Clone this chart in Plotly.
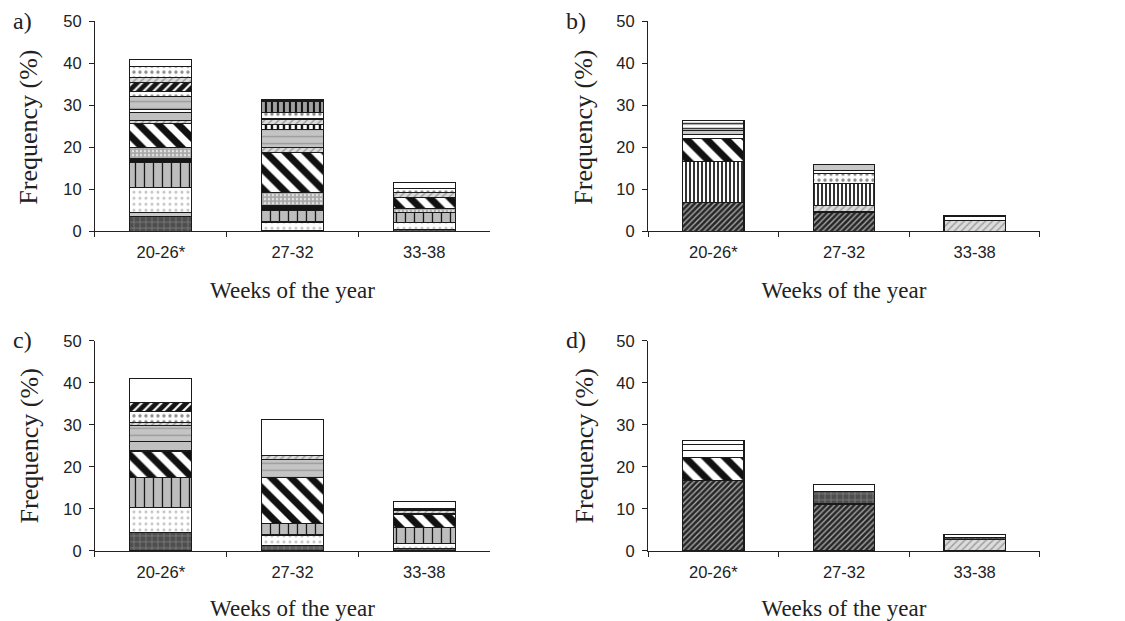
import plotly.graph_objects as go

weeks = ["20-26*", "27-32", "33-38"]

# Panel a: stacked frequencies (%) per taxon, bottom to top
a_values = [
    [3.5, 0.2, 0.5],
    [0.9, 0.0, 0.0],
    [6.1, 2.0, 1.6],
    [5.9, 2.8, 2.4],
    [0.9, 1.2, 0.0],
    [2.7, 3.1, 1.0],
    [5.7, 9.5, 2.5],
    [0.6, 1.2, 0.0],
    [2.0, 0.0, 0.0],
    [0.7, 0.0, 0.0],
    [3.0, 4.3, 0.0],
    [1.2, 0.0, 0.0],
    [2.2, 0.0, 0.0],
    [0.0, 1.2, 0.0],
    [1.1, 1.2, 1.2],
    [2.7, 1.6, 0.9],
    [0.0, 2.7, 0.0],
    [1.7, 0.3, 1.6],
]
a_styles = ["darkx", "lgray", "stipple", "vdash", "black", "gdots", "diagw", "lightdiag",
            "gray", "white", "wavy", "wdots", "blackdiag", "vsquare", "lightdiag", "wdots",
            "gvbars", "white"]

# Panel b
b_values = [
    [6.9, 4.6, 0.0],
    [0.0, 1.6, 2.6],
    [9.7, 5.1, 0.0],
    [5.4, 0.0, 0.0],
    [0.0, 2.5, 0.0],
    [1.0, 0.7, 0.9],
    [1.0, 1.4, 0.3],
    [2.3, 0.0, 0.0],
]
b_styles = ["densediag", "lightdiag", "vstripes", "diagw", "wdots", "white", "lgray", "hlines"]

# Panel c
c_values = [
    [4.4, 1.3, 0.5],
    [6.0, 2.5, 1.2],
    [7.1, 2.8, 3.9],
    [6.3, 10.9, 3.2],
    [2.3, 0.0, 0.0],
    [3.8, 4.3, 0.0],
    [0.7, 0.9, 0.8],
    [2.6, 0.0, 0.0],
    [2.2, 0.0, 0.4],
    [5.6, 8.6, 1.8],
]
c_styles = ["darkx", "stipple", "vdash", "diagw", "gray", "wavy", "lightdiag", "wdots",
            "blackdiag", "white"]

# Panel d
d_values = [
    [16.7, 11.2, 0.0],
    [0.0, 0.0, 2.8],
    [0.0, 2.9, 0.5],
    [5.6, 0.0, 0.0],
    [1.7, 1.7, 0.7],
    [1.3, 0.0, 0.0],
    [1.0, 0.0, 0.0],
]
d_styles = ["densediag", "lightdiag", "darkx", "diagw", "white", "white", "white"]


def pat(shape, fg, size, solidity):
    return dict(shape=shape, fgcolor=fg, size=size, solidity=solidity,
                fillmode="overlay", fgopacity=1)


STY = {
    "darkx": ("#4e4e4e", pat("+", "#8a8a8a", 6, 0.2)),
    "lgray": ("#c8c8c8", dict(shape="")),
    "stipple": ("#ffffff", pat(".", "#c4c4c4", 6, 0.2)),
    "vdash": ("#bdbdbd", pat("|", "#111111", 9, 0.14)),
    "black": ("#151515", dict(shape="")),
    "gdots": ("#a8a8a8", pat(".", "#e4e4e4", 4, 0.3)),
    "diagw": ("#ffffff", pat("\\", "#111111", 14, 0.5)),
    "lightdiag": ("#dcdcdc", pat("/", "#a0a0a0", 5, 0.3)),
    "gray": ("#c0c0c0", dict(shape="")),
    "white": ("#ffffff", dict(shape="")),
    "wavy": ("#c4c4c4", pat("-", "#9a9a9a", 7, 0.2)),
    "wdots": ("#ffffff", pat(".", "#8a8a8a", 6, 0.25)),
    "blackdiag": ("#151515", pat("/", "#ffffff", 7, 0.3)),
    "vsquare": ("#ffffff", pat("|", "#111111", 6, 0.4)),
    "gvbars": ("#a0a0a0", pat("|", "#111111", 6, 0.35)),
    "densediag": ("#262626", pat("/", "#a8a8a8", 4, 0.35)),
    "vstripes": ("#ffffff", pat("|", "#333333", 4, 0.5)),
    "hlines": ("#ffffff", pat("-", "#222222", 5, 0.3)),
}

H = 621


def py(ypix):
    # pixel row in the target picture -> paper fraction (with observed vertical offset)
    return 1 - (ypix - 7.8) / 0.975 / H


fig = go.Figure()

panels = [
    (a_values, a_styles, "x", "y"),
    (b_values, b_styles, "x2", "y2"),
    (c_values, c_styles, "x3", "y3"),
    (d_values, d_styles, "x4", "y4"),
]

for vals, styles, xa, ya in panels:
    for v, s in zip(vals, styles):
        col, pt = STY[s]
        fig.add_trace(go.Bar(
            x=weeks, y=v, xaxis=xa, yaxis=ya, width=0.47,
            marker=dict(color=col, pattern=pt, line=dict(color="#1a1a1a", width=1.2)),
            showlegend=False, hoverinfo="skip",
        ))

tickfont = dict(family="Liberation Sans, Arial", size=16.5, color="#222222")
serif_x = dict(family="Liberation Serif, Times New Roman", size=23, color="#222222")
xdoms = [[0.0844, 0.4356], [0.576, 0.9244], [0.0844, 0.4356], [0.576, 0.9244]]
ydoms = [[py(231), py(20)], [py(231), py(20)], [py(552), py(341)], [py(552), py(341)]]

layout = dict(
    width=1125, height=H, margin=dict(l=0, r=0, t=0, b=0),
    paper_bgcolor="white", plot_bgcolor="white", barmode="stack",
    font=dict(family="Liberation Serif", color="#222222"),
)
for i in range(4):
    sx = "xaxis" if i == 0 else f"xaxis{i+1}"
    sy = "yaxis" if i == 0 else f"yaxis{i+1}"
    anchor_x = "y" if i == 0 else f"y{i+1}"
    anchor_y = "x" if i == 0 else f"x{i+1}"
    layout[sx] = dict(domain=xdoms[i], anchor=anchor_x, type="category",
                      showline=True, linecolor="#222222", linewidth=1,
                      ticks="outside", ticklen=5, tickcolor="#222222",
                      tickson="boundaries", showgrid=False, tickfont=tickfont,
                      ticklabelstandoff=6, range=[-0.5, 2.5], fixedrange=True,
                      title=dict(text="Weeks of the year", font=serif_x, standoff=21))
    layout[sy] = dict(domain=ydoms[i], anchor=anchor_y, range=[0, 50], dtick=10,
                      showline=True, linecolor="#222222", linewidth=1,
                      ticks="outside", ticklen=5, tickcolor="#222222",
                      showgrid=False, zeroline=False, tickfont=tickfont,
                      ticklabelstandoff=4, fixedrange=True)
fig.update_layout(**layout)

serif = dict(family="Liberation Serif, Times New Roman", size=24, color="#222222")
serif_v = dict(family="Liberation Serif, Times New Roman", size=26, color="#222222")
annos = []
pl = [("a)", 22, 20), ("b)", 576, 20), ("c)", 22, 340), ("d)", 576, 340)]
for t, px, ypx in pl:
    annos.append(dict(text=t, x=px / 1125, y=py(ypx), xref="paper", yref="paper",
                      showarrow=False, font=serif, xanchor="center", yanchor="middle"))
for yc, xt in [(127, 29), (127, 584), (447, 29), (447, 584)]:
    annos.append(dict(text="Frequency (%)", x=xt / 1125, y=py(yc),
                      xref="paper", yref="paper", showarrow=False, textangle=-90,
                      font=serif_v, xanchor="center", yanchor="middle"))
fig.update_layout(annotations=annos)

fig.write_html("out.html")
